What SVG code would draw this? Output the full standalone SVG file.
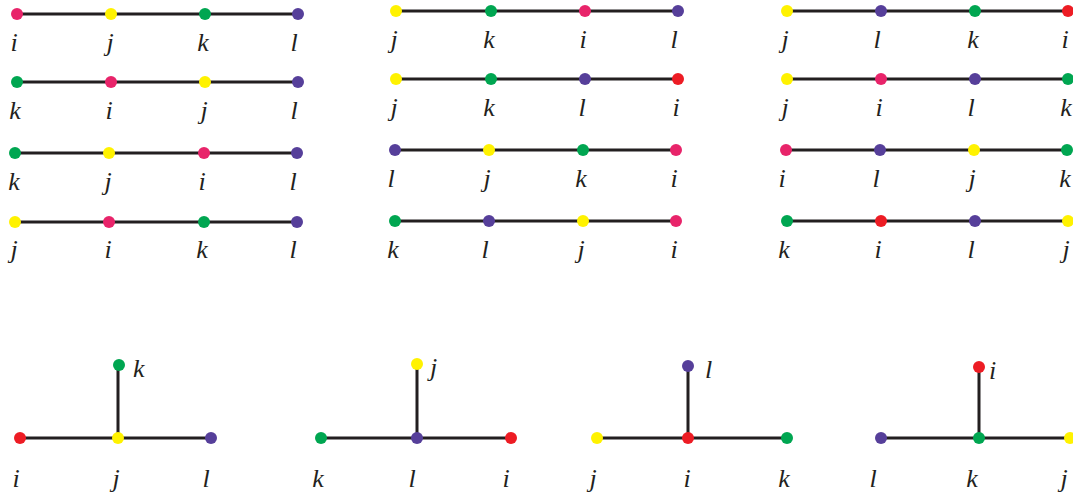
<svg xmlns="http://www.w3.org/2000/svg" width="1073" height="493" viewBox="0 0 1073 493" font-family="'Liberation Serif', 'Times New Roman', serif" font-style="italic" font-size="26">
<style>
.e{stroke:#231f20;stroke-width:3;fill:none}
.p{fill:#e8246a}.r{fill:#ed1c24}.y{fill:#fff200}.g{fill:#00a651}.v{fill:#563f9a}
text{fill:#231f20;text-anchor:middle}
text.t{text-anchor:start}
</style>
<rect width="1073" height="493" fill="#fff"/>
<g id="connectors">
<path class="e" d="M17 14H298M17 82H298M15 153H297M15 222H297"/>
<path class="e" d="M396 11H678M396 79H678M395 150H676M395 221H676"/>
<path class="e" d="M787 11H1068M787 79H1068M786 150H1067M787 221H1068"/>
<path class="e" d="M20 438H211M118 438V365"/>
<path class="e" d="M321 438H511M417 438V364"/>
<path class="e" d="M597 438H787M688 438V366"/>
<path class="e" d="M881 438H1070M979 438V367"/>
</g>
<g id="c1r1"><circle class="p" cx="17" cy="14" r="6"/><circle class="y" cx="111" cy="14" r="6"/><circle class="g" cx="205" cy="14" r="6"/><circle class="v" cx="298" cy="14" r="6"/>
<text x="14" y="51">i</text><text x="110" y="51">j</text><text x="203" y="51">k</text><text x="294" y="51">l</text></g>
<g id="c1r2"><circle class="g" cx="17" cy="82" r="6"/><circle class="p" cx="111" cy="82" r="6"/><circle class="y" cx="205" cy="82" r="6"/><circle class="v" cx="298" cy="82" r="6"/>
<text x="15" y="119">k</text><text x="109" y="119">i</text><text x="204" y="119">j</text><text x="294" y="119">l</text></g>
<g id="c1r3"><circle class="g" cx="15" cy="153" r="6"/><circle class="y" cx="109" cy="153" r="6"/><circle class="p" cx="204" cy="153" r="6"/><circle class="v" cx="297" cy="153" r="6"/>
<text x="14" y="190">k</text><text x="108" y="190">j</text><text x="202" y="190">i</text><text x="293" y="190">l</text></g>
<g id="c1r4"><circle class="y" cx="15" cy="222" r="6"/><circle class="p" cx="109" cy="222" r="6"/><circle class="g" cx="204" cy="222" r="6"/><circle class="v" cx="297" cy="222" r="6"/>
<text x="14" y="258">j</text><text x="108" y="258">i</text><text x="202" y="258">k</text><text x="293" y="258">l</text></g>
<g id="c2r1"><circle class="y" cx="396" cy="11" r="6"/><circle class="g" cx="491" cy="11" r="6"/><circle class="p" cx="585" cy="11" r="6"/><circle class="v" cx="678" cy="11" r="6"/>
<text x="394" y="48">j</text><text x="489" y="48">k</text><text x="583" y="48">i</text><text x="674" y="48">l</text></g>
<g id="c2r2"><circle class="y" cx="396" cy="79" r="6"/><circle class="g" cx="491" cy="79" r="6"/><circle class="v" cx="585" cy="79" r="6"/><circle class="r" cx="678" cy="79" r="6"/>
<text x="394" y="116">j</text><text x="489" y="116">k</text><text x="582" y="116">l</text><text x="676" y="116">i</text></g>
<g id="c2r3"><circle class="v" cx="395" cy="150" r="6"/><circle class="y" cx="489" cy="150" r="6"/><circle class="g" cx="583" cy="150" r="6"/><circle class="p" cx="676" cy="150" r="6"/>
<text x="391" y="187">l</text><text x="487" y="187">j</text><text x="581" y="187">k</text><text x="674" y="187">i</text></g>
<g id="c2r4"><circle class="g" cx="395" cy="221" r="6"/><circle class="v" cx="489" cy="221" r="6"/><circle class="y" cx="583" cy="221" r="6"/><circle class="p" cx="676" cy="221" r="6"/>
<text x="393" y="258">k</text><text x="485" y="258">l</text><text x="581" y="258">j</text><text x="674" y="258">i</text></g>
<g id="c3r1"><circle class="y" cx="787" cy="11" r="6"/><circle class="v" cx="881" cy="11" r="6"/><circle class="g" cx="975" cy="11" r="6"/><circle class="r" cx="1068" cy="11" r="6"/>
<text x="785" y="48">j</text><text x="877" y="48">l</text><text x="973" y="48">k</text><text x="1065" y="48">i</text></g>
<g id="c3r2"><circle class="y" cx="787" cy="79" r="6"/><circle class="p" cx="881" cy="79" r="6"/><circle class="v" cx="975" cy="79" r="6"/><circle class="g" cx="1068" cy="79" r="6"/>
<text x="785" y="116">j</text><text x="879" y="116">i</text><text x="971" y="116">l</text><text x="1066" y="116">k</text></g>
<g id="c3r3"><circle class="p" cx="786" cy="150" r="6"/><circle class="v" cx="880" cy="150" r="6"/><circle class="y" cx="974" cy="150" r="6"/><circle class="g" cx="1067" cy="150" r="6"/>
<text x="782" y="187">i</text><text x="876" y="187">l</text><text x="972" y="187">j</text><text x="1065" y="187">k</text></g>
<g id="c3r4"><circle class="g" cx="787" cy="221" r="6"/><circle class="r" cx="881" cy="221" r="6"/><circle class="v" cx="975" cy="221" r="6"/><circle class="y" cx="1068" cy="221" r="6"/>
<text x="784" y="258">k</text><text x="878" y="258">i</text><text x="971" y="258">l</text><text x="1066" y="258">j</text></g>
<g id="t1"><circle class="r" cx="20" cy="438" r="6"/><circle class="y" cx="118" cy="438" r="6"/><circle class="v" cx="211" cy="438" r="6"/><circle class="g" cx="119" cy="365" r="6"/>
<text x="16" y="487">i</text><text x="116" y="487">j</text><text x="206" y="487">l</text><text class="t" x="133" y="377">k</text></g>
<g id="t2"><circle class="g" cx="321" cy="438" r="6"/><circle class="v" cx="417" cy="438" r="6"/><circle class="r" cx="511" cy="438" r="6"/><circle class="y" cx="417" cy="364" r="6"/>
<text x="318" y="487">k</text><text x="412" y="487">l</text><text x="506" y="487">i</text><text class="t" x="430" y="376">j</text></g>
<g id="t3"><circle class="y" cx="597" cy="438" r="6"/><circle class="r" cx="688" cy="438" r="6"/><circle class="g" cx="787" cy="438" r="6"/><circle class="v" cx="688" cy="366" r="6"/>
<text x="593" y="487">j</text><text x="687" y="487">i</text><text x="784" y="487">k</text><text class="t" x="705" y="378">l</text></g>
<g id="t4"><circle class="v" cx="881" cy="438" r="6"/><circle class="g" cx="979" cy="438" r="6"/><circle class="y" cx="1070" cy="438" r="6"/><circle class="r" cx="979" cy="367" r="6"/>
<text x="873" y="487">l</text><text x="972" y="487">k</text><text x="1064" y="487">j</text><text class="t" x="989" y="379">i</text></g>
</svg>
